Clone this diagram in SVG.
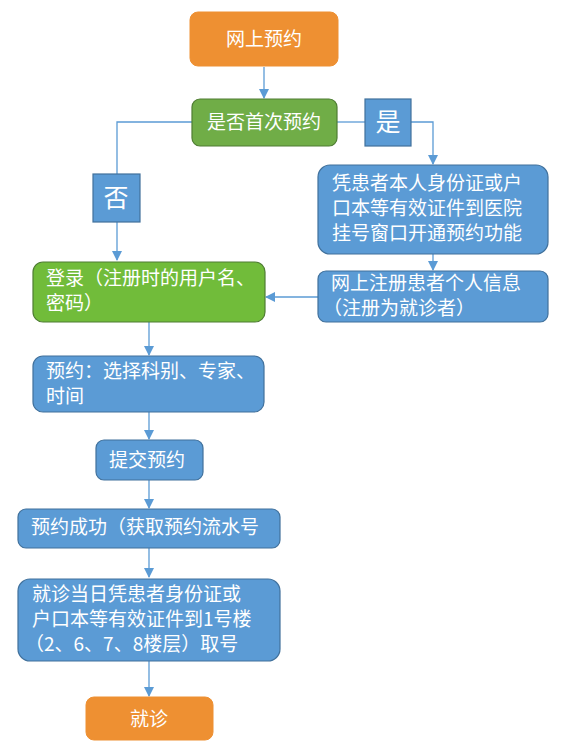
<svg xmlns="http://www.w3.org/2000/svg" width="561" height="753" viewBox="0 0 561 753">
<style>
text{font-family:"Noto Sans CJK SC","Noto Sans",sans-serif;font-size:19px;fill:#ffffff}
.c{text-anchor:middle}
.big{font-size:25px}
.orange{fill:#EE9032;stroke:#EE9032;stroke-width:1}
.green{fill:#70AD47;stroke:#4F7D33;stroke-width:1.2}
.lgreen{fill:#71BC3A;stroke:#4F7D33;stroke-width:1.2}
.blue{fill:#5B9BD5;stroke:#41719C;stroke-width:1.2}
.edge{fill:none;stroke:#5B9BD5;stroke-width:1.3}
</style>
<defs>
<marker id="ah" markerWidth="10" markerHeight="10" refX="9" refY="5" orient="auto" markerUnits="userSpaceOnUse">
<path d="M0,0 L10,5 L0,10 Z" fill="#5B9BD5"/>
</marker>
</defs>
<rect width="561" height="753" fill="#ffffff"/>
<g id="connectors">
<path class="edge" d="M264,67 V98" marker-end="url(#ah)"/>
<path class="edge" d="M192,122 H117 V174"/>
<path class="edge" d="M117,222 V260" marker-end="url(#ah)"/>
<path class="edge" d="M337,122 H365"/>
<path class="edge" d="M411,122 H433 V164" marker-end="url(#ah)"/>
<path class="edge" d="M433,254 V270" marker-end="url(#ah)"/>
<path class="edge" d="M318,297 H266" marker-end="url(#ah)"/>
<path class="edge" d="M149,322 V355" marker-end="url(#ah)"/>
<path class="edge" d="M149,412 V439" marker-end="url(#ah)"/>
<path class="edge" d="M149,480 V508" marker-end="url(#ah)"/>
<path class="edge" d="M149,548 V577" marker-end="url(#ah)"/>
<path class="edge" d="M149,661 V696" marker-end="url(#ah)"/>
</g>
<g id="start">
<rect class="orange" x="190" y="12" width="148" height="54" rx="8"/>
<text class="c" x="264" y="46">网上预约</text>
</g>
<g id="decision">
<rect class="green" x="192" y="99" width="145" height="47" rx="8"/>
<text class="c" x="264" y="129">是否首次预约</text>
</g>
<g id="yes">
<rect class="blue" x="365" y="99" width="46" height="47"/>
<text class="c big" x="388" y="131">是</text>
</g>
<g id="no">
<rect class="blue" x="93" y="174" width="47" height="48"/>
<text class="c big" x="116" y="207">否</text>
</g>
<g id="open">
<rect class="blue" x="318" y="165" width="230" height="89" rx="12"/>
<text x="332" y="190">凭患者本人身份证或户</text>
<text x="332" y="215">口本等有效证件到医院</text>
<text x="332" y="240">挂号窗口开通预约功能</text>
</g>
<g id="register">
<rect class="blue" x="318" y="271" width="230" height="51" rx="8"/>
<text x="331" y="290">网上注册患者个人信息</text>
<text x="323" y="315">（注册为就诊者）</text>
</g>
<g id="login">
<rect class="lgreen" x="33" y="262" width="232" height="60" rx="10"/>
<text x="46" y="285">登录（注册时的用户名、</text>
<text x="46" y="310">密码）</text>
</g>
<g id="choose">
<rect class="blue" x="33" y="356" width="231" height="56" rx="10"/>
<text x="46" y="378">预约：选择科别、专家、</text>
<text x="46" y="403">时间</text>
</g>
<g id="submit">
<rect class="blue" x="96" y="440" width="107" height="40" rx="8"/>
<text x="109" y="467">提交预约</text>
</g>
<g id="success">
<rect class="blue" x="18" y="509" width="262" height="39" rx="8"/>
<text x="31" y="534">预约成功（获取预约流水号</text>
</g>
<g id="takenum">
<rect class="blue" x="18" y="579" width="262" height="82" rx="12"/>
<text x="32" y="601">就诊当日凭患者身份证或</text>
<text x="32" y="626">户口本等有效证件到1号楼</text>
<text x="25" y="651">（2、6、7、8楼层）取号</text>
</g>
<g id="end">
<rect class="orange" x="86" y="697" width="127" height="43" rx="8"/>
<text class="c" x="149" y="726">就诊</text>
</g>
</svg>
